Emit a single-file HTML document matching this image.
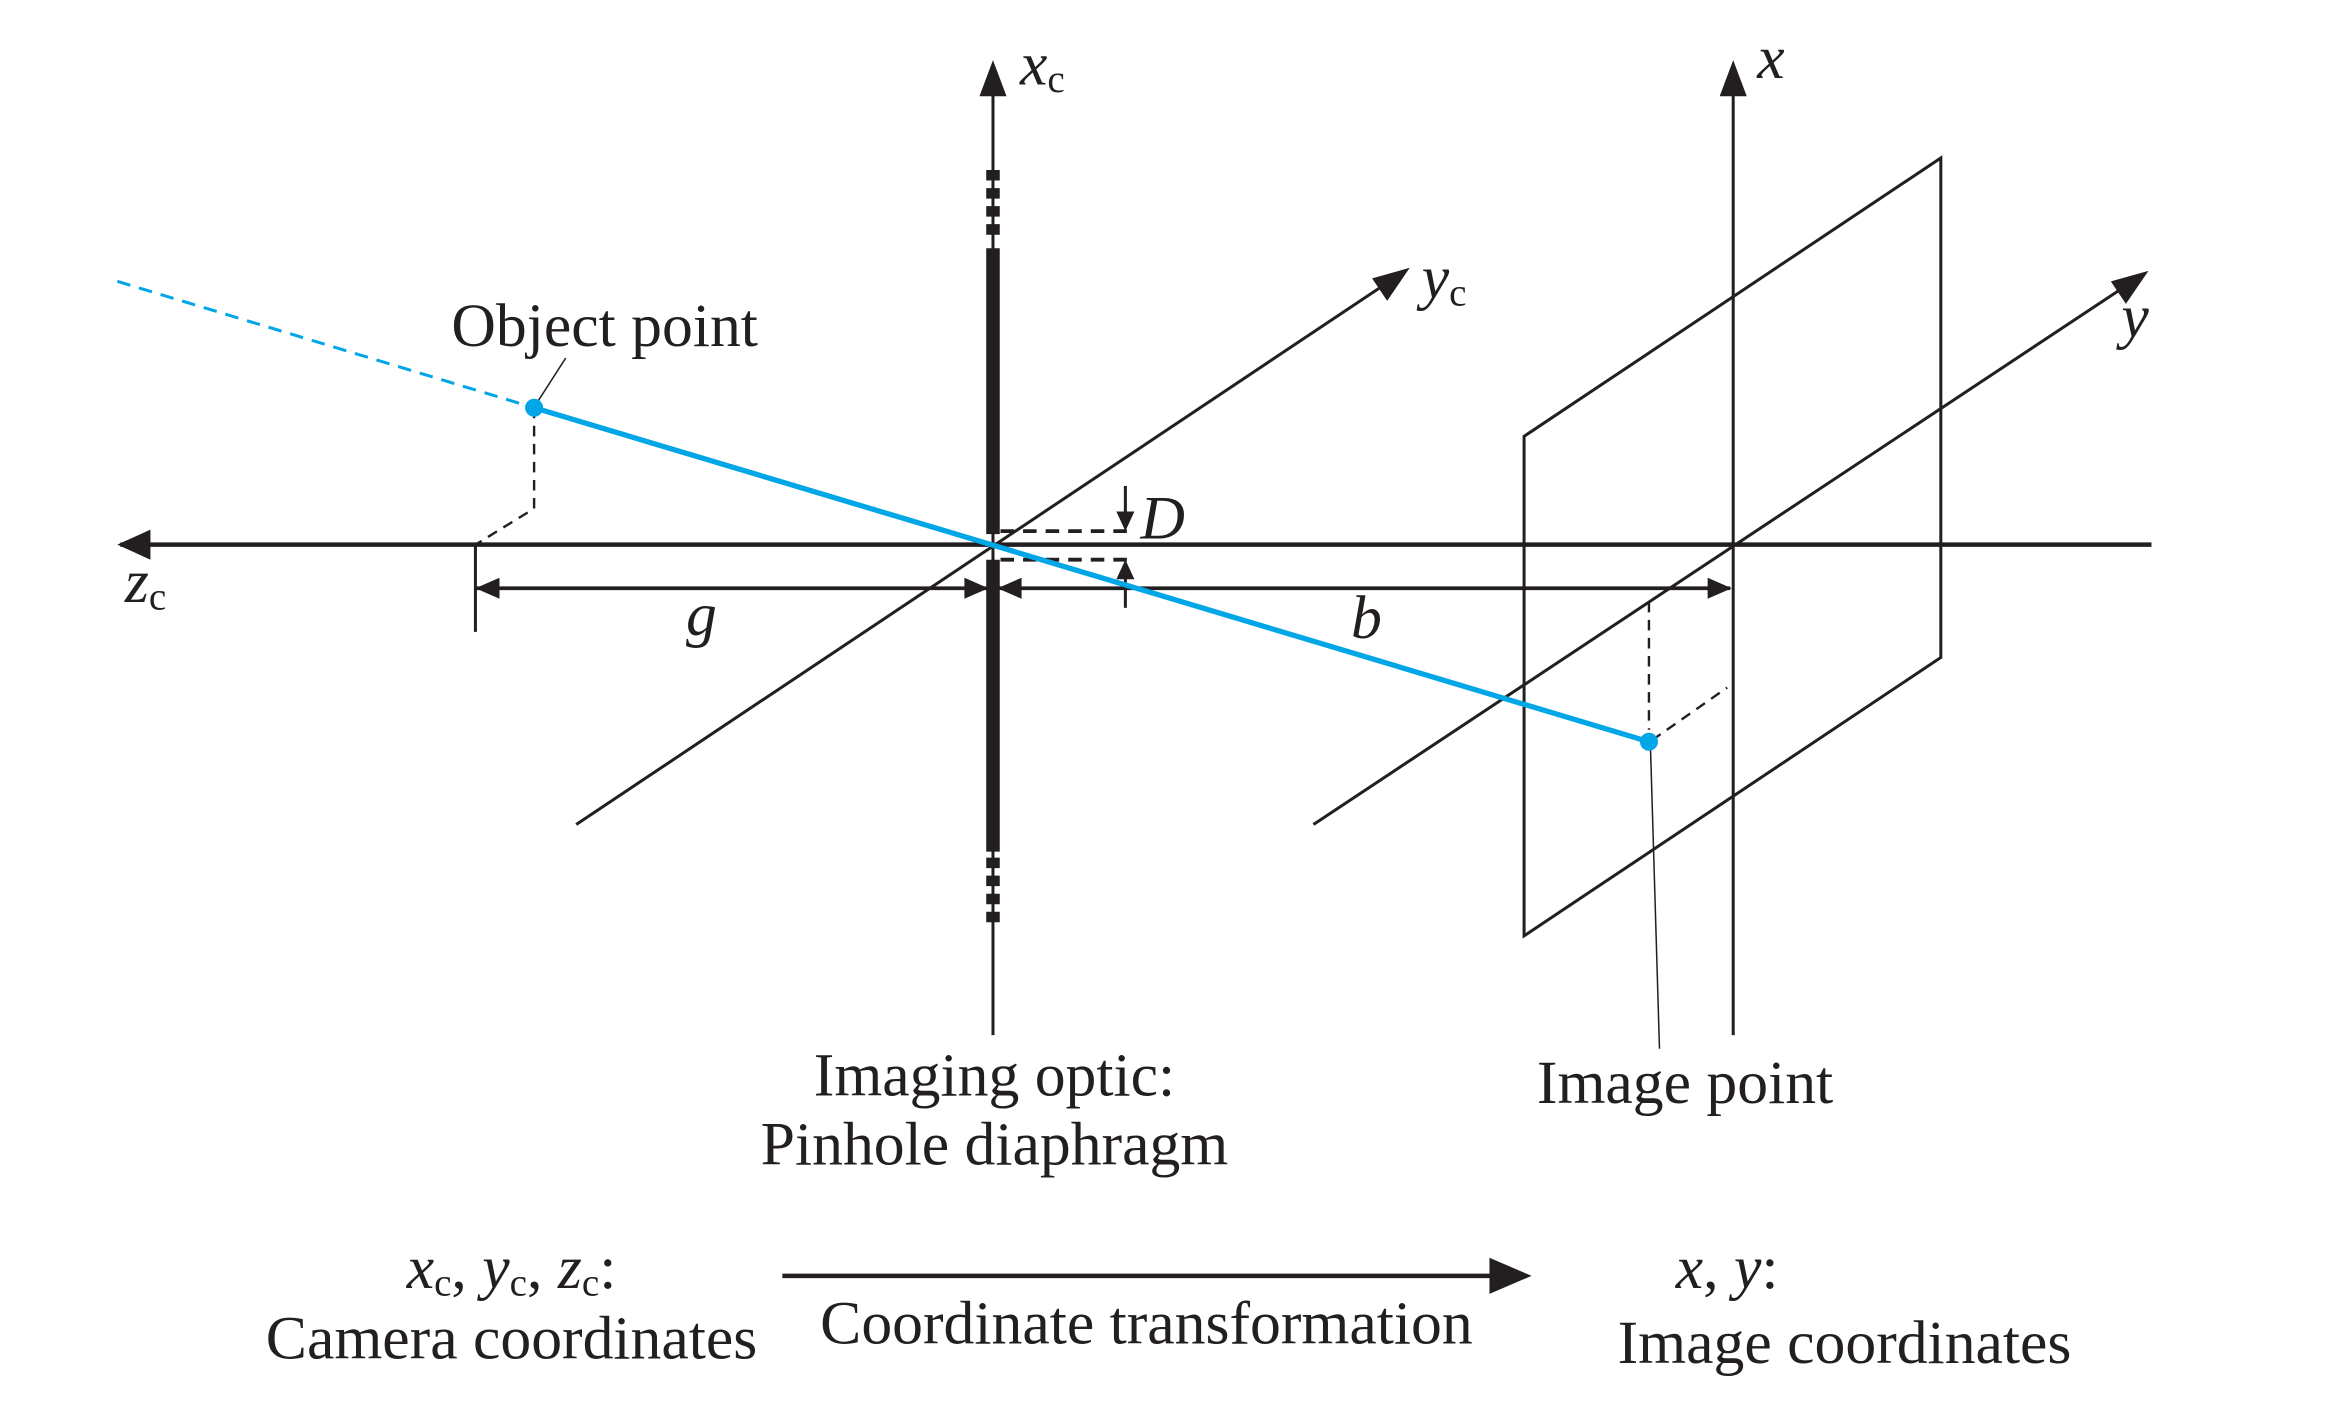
<!DOCTYPE html>
<html><head><meta charset="utf-8"><style>
html,body{margin:0;padding:0;background:#fff;}
svg{display:block;}
text{font-family:"Liberation Serif",serif;fill:#231f20;}
</style></head><body>
<svg width="2332" height="1406" viewBox="0 0 1550 934.5" preserveAspectRatio="none">
<g stroke="#231f20" fill="none">
<line x1="1430" y1="362" x2="80" y2="362" stroke-width="3"/>
<path d="M78,362 L100,352 L100,372 z" fill="#231f20" stroke="none"/>
<line x1="660" y1="688" x2="660" y2="62" stroke-width="2"/>
<path d="M660,40 L651,64 L669,64 z" fill="#231f20" stroke="none"/>
<line x1="1152" y1="688" x2="1152" y2="62" stroke-width="2"/>
<path d="M1152,40 L1143,64 L1161,64 z" fill="#231f20" stroke="none"/>
<line x1="383" y1="548" x2="925" y2="186" stroke-width="2"/>
<path d="M937,178 L912,185 L922,200 z" fill="#231f20" stroke="none"/>
<line x1="873" y1="548" x2="1416" y2="188" stroke-width="2"/>
<path d="M1428,180 L1403,187 L1413,202 z" fill="#231f20" stroke="none"/>
<polygon points="1013,290 1290,105 1290,437 1013,622" stroke-width="2"/>
<line x1="660" y1="165" x2="660" y2="355" stroke-width="9"/>
<line x1="660" y1="372" x2="660" y2="566" stroke-width="9"/>
<line x1="660" y1="113" x2="660" y2="160" stroke-width="9" stroke-dasharray="7,5"/>
<line x1="660" y1="570" x2="660" y2="615" stroke-width="9" stroke-dasharray="7,5"/>
<line x1="665" y1="353" x2="752" y2="353" stroke-width="2.5" stroke-dasharray="9,6"/>
<line x1="665" y1="372" x2="752" y2="372" stroke-width="2.5" stroke-dasharray="9,6"/>
<line x1="748" y1="323" x2="748" y2="345" stroke-width="2"/>
<path d="M748,353 L742,340 L754,340 z" fill="#231f20" stroke="none"/>
<line x1="748" y1="382" x2="748" y2="404" stroke-width="2"/>
<path d="M748,372 L742,385 L754,385 z" fill="#231f20" stroke="none"/>
<line x1="316" y1="391" x2="1150" y2="391" stroke-width="2.5"/>
<line x1="316" y1="363" x2="316" y2="420" stroke-width="2"/>
<path d="M316,391 L332,384 L332,398 z" fill="#231f20" stroke="none"/>
<path d="M657,391 L641,384 L641,398 z" fill="#231f20" stroke="none"/>
<path d="M663,391 L679,384 L679,398 z" fill="#231f20" stroke="none"/>
<path d="M1151,391 L1135,384 L1135,398 z" fill="#231f20" stroke="none"/>
<polyline points="355,271 355,338 316,362" stroke-width="1.6" stroke-dasharray="7,5"/>
<line x1="1096" y1="400" x2="1096" y2="485" stroke-width="1.6" stroke-dasharray="7,5"/>
<line x1="1098" y1="492" x2="1148" y2="457" stroke-width="1.6" stroke-dasharray="7,5"/>
<line x1="376" y1="238" x2="358" y2="266" stroke-width="1"/>
<line x1="1097" y1="496" x2="1103" y2="697" stroke-width="1"/>
<line x1="520" y1="848" x2="995" y2="848" stroke-width="3"/>
<path d="M1018,848 L990,836 L990,860 z" fill="#231f20" stroke="none"/>
</g>
<line x1="78" y1="187" x2="355" y2="271" stroke="#00a6e6" stroke-width="2" stroke-dasharray="9,6"/>
<line x1="355" y1="271" x2="1096" y2="493" stroke="#00a6e6" stroke-width="3.5"/>
<circle cx="355" cy="271" r="6" fill="#00a6e6"/>
<circle cx="1096" cy="493" r="6" fill="#00a6e6"/>
<g font-size="41">
<text x="678" y="56" font-style="italic">x<tspan font-size="26" font-style="normal" dy="5">c</tspan></text>
<text x="1168" y="52" font-style="italic">x</text>
<text x="945" y="198" font-style="italic">y<tspan font-size="26" font-style="normal" dy="5">c</tspan></text>
<text x="1410" y="224" font-style="italic">y</text>
<text x="83" y="400" font-style="italic">z<tspan font-size="26" font-style="normal" dy="5">c</tspan></text>
<text x="758" y="358" font-style="italic">D</text>
<text x="456" y="422" font-style="italic">g</text>
<text x="898" y="424" font-style="italic">b</text>
<text x="300" y="230">Object point</text>
<text x="661" y="728" text-anchor="middle">Imaging optic:</text>
<text x="661" y="774" text-anchor="middle">Pinhole diaphragm</text>
<text x="1120" y="733" text-anchor="middle">Image point</text>
<text x="340" y="856" text-anchor="middle" font-style="italic">x<tspan font-size="26" font-style="normal" dy="5">c</tspan><tspan dy="-5" font-style="normal">, </tspan>y<tspan font-size="26" font-style="normal" dy="5">c</tspan><tspan dy="-5" font-style="normal">, </tspan>z<tspan font-size="26" font-style="normal" dy="5">c</tspan><tspan dy="-5" font-style="normal">:</tspan></text>
<text x="340" y="903" text-anchor="middle">Camera coordinates</text>
<text x="762" y="893" text-anchor="middle">Coordinate transformation</text>
<text x="1148" y="856" text-anchor="middle" font-style="italic">x<tspan font-style="normal">, </tspan>y<tspan font-style="normal">:</tspan></text>
<text x="1226" y="906" text-anchor="middle">Image coordinates</text>
</g>
</svg>
</body></html>
